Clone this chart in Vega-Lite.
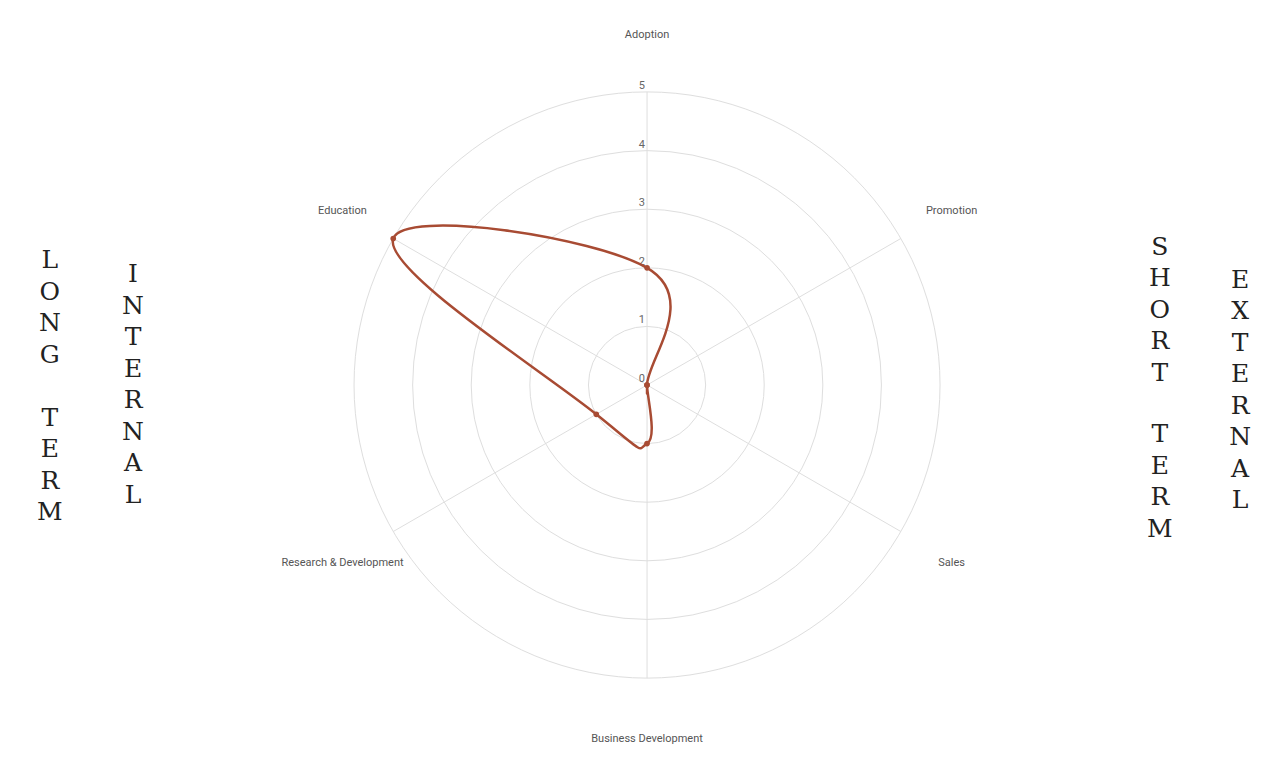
{
  "$schema": "https://vega.github.io/schema/vega-lite/v6.json",
  "width": 1280,
  "height": 776,
  "autosize": {"type": "fit", "contains": "padding"},
  "padding": 0,
  "background": "white",
  "config": {
    "view": {"stroke": null},
    "text": {"font": "Roboto"}
  },
  "datasets": {
    "axes": [
      {"axis": "Adoption", "i": 0, "value": 2},
      {"axis": "Promotion", "i": 1, "value": 0},
      {"axis": "Sales", "i": 2, "value": 0},
      {"axis": "Business Development", "i": 3, "value": 1},
      {"axis": "Research & Development", "i": 4, "value": 1},
      {"axis": "Education", "i": 5, "value": 5}
    ],
    "rings": [{"r": 1}, {"r": 2}, {"r": 3}, {"r": 4}, {"r": 5}],
    "ticks": [{"tick": 0}, {"tick": 1}, {"tick": 2}, {"tick": 3}, {"tick": 4}, {"tick": 5}],
    "sides": [
      {"col": "left", "word": "LONG"},
      {"col": "left", "word": "TERM"},
      {"col": "left-inner", "word": "INTERNAL"},
      {"col": "right-inner", "word": "SHORT"},
      {"col": "right-inner", "word": "TERM"},
      {"col": "right", "word": "EXTERNAL"}
    ]
  },
  "layer": [
    {
      "data": {"name": "rings"},
      "mark": {"type": "point", "shape": "circle", "filled": false, "fill": null,
               "stroke": "#dedede", "strokeWidth": 1, "opacity": 1},
      "encoding": {
        "x": {"datum": 0, "type": "quantitative", "axis": null,
              "scale": {"domain": [-11.04, 10.8], "nice": false, "zero": false}},
        "y": {"datum": 0, "type": "quantitative", "axis": null,
              "scale": {"domain": [-6.672, 6.57], "nice": false, "zero": false}},
        "size": {"field": "r", "type": "quantitative", "legend": null,
                 "scale": {"type": "pow", "exponent": 2, "domain": [0, 5], "range": [0, 343396]}}
      }
    },
    {
      "data": {"name": "axes"},
      "transform": [
        {"calculate": "datum.i * PI / 3", "as": "theta"},
        {"calculate": "5 * sin(datum.theta)", "as": "x"},
        {"calculate": "5 * cos(datum.theta)", "as": "y"}
      ],
      "mark": {"type": "rule", "stroke": "#dedede", "strokeWidth": 1},
      "encoding": {
        "x": {"field": "x", "type": "quantitative", "axis": null,
              "scale": {"domain": [-11.04, 10.8], "nice": false, "zero": false}},
        "y": {"field": "y", "type": "quantitative", "axis": null,
              "scale": {"domain": [-6.672, 6.57], "nice": false, "zero": false}},
        "x2": {"datum": 0},
        "y2": {"datum": 0}
      }
    },
    {
      "data": {"name": "ticks"},
      "mark": {"type": "text", "align": "right", "baseline": "bottom", "dx": -2, "dy": -1,
               "fontSize": 11, "color": "#666"},
      "encoding": {
        "x": {"datum": 0, "type": "quantitative", "axis": null,
              "scale": {"domain": [-11.04, 10.8], "nice": false, "zero": false}},
        "y": {"field": "tick", "type": "quantitative", "axis": null,
              "scale": {"domain": [-6.672, 6.57], "nice": false, "zero": false}},
        "text": {"field": "tick", "type": "quantitative"}
      }
    },
    {
      "data": {"name": "axes"},
      "transform": [
        {"calculate": "datum.i * PI / 3", "as": "theta"},
        {"calculate": "datum.value * sin(datum.theta)", "as": "x"},
        {"calculate": "datum.value * cos(datum.theta)", "as": "y"}
      ],
      "mark": {"type": "line", "interpolate": "cardinal-closed", "tension": -0.25,
               "stroke": "#a84b33", "strokeWidth": 2.5},
      "encoding": {
        "x": {"field": "x", "type": "quantitative", "axis": null,
              "scale": {"domain": [-11.04, 10.8], "nice": false, "zero": false}},
        "y": {"field": "y", "type": "quantitative", "axis": null,
              "scale": {"domain": [-6.672, 6.57], "nice": false, "zero": false}},
        "order": {"field": "i", "type": "quantitative"}
      }
    },
    {
      "data": {"name": "axes"},
      "transform": [
        {"calculate": "datum.i * PI / 3", "as": "theta"},
        {"calculate": "datum.value * sin(datum.theta)", "as": "x"},
        {"calculate": "datum.value * cos(datum.theta)", "as": "y"}
      ],
      "mark": {"type": "point", "shape": "circle", "filled": true, "color": "#a84b33", "size": 32, "opacity": 1},
      "encoding": {
        "x": {"field": "x", "type": "quantitative", "axis": null,
              "scale": {"domain": [-11.04, 10.8], "nice": false, "zero": false}},
        "y": {"field": "y", "type": "quantitative", "axis": null,
              "scale": {"domain": [-6.672, 6.57], "nice": false, "zero": false}},
        "tooltip": [{"field": "axis"}, {"field": "value"}]
      }
    },
    {
      "data": {"name": "axes"},
      "transform": [
        {"calculate": "datum.i * PI / 3", "as": "theta"},
        {"calculate": "6 * sin(datum.theta)", "as": "x"},
        {"calculate": "6 * cos(datum.theta)", "as": "y"}
      ],
      "mark": {"type": "text", "align": "center", "baseline": "middle", "dy": 2,
               "fontSize": 11, "color": "#555"},
      "encoding": {
        "x": {"field": "x", "type": "quantitative", "axis": null,
              "scale": {"domain": [-11.04, 10.8], "nice": false, "zero": false}},
        "y": {"field": "y", "type": "quantitative", "axis": null,
              "scale": {"domain": [-6.672, 6.57], "nice": false, "zero": false}},
        "text": {"field": "axis"}
      }
    },
    {
      "data": {"name": "sides"},
      "transform": [{"filter": "datum.col == 'left' && datum.word == 'LONG'"}, {"calculate": "split(datum.word, '')", "as": "letters"}],
      "mark": {"type": "text", "align": "center", "baseline": "middle",
               "font": "DejaVu Serif", "fontSize": 25, "lineHeight": 31.5, "color": "#222"},
      "encoding": {"x": {"datum": -10.19}, "y": {"datum": 2.133}, "text": {"field": "letters"}}
    },
    {
      "data": {"name": "sides"},
      "transform": [{"filter": "datum.col == 'left' && datum.word == 'TERM'"}, {"calculate": "split(datum.word, '')", "as": "letters"}],
      "mark": {"type": "text", "align": "center", "baseline": "middle",
               "font": "DejaVu Serif", "fontSize": 25, "lineHeight": 31.5, "color": "#222"},
      "encoding": {"x": {"datum": -10.19}, "y": {"datum": -0.555}, "text": {"field": "letters"}}
    },
    {
      "data": {"name": "sides"},
      "transform": [{"filter": "datum.col == 'left-inner'"}, {"calculate": "split(datum.word, '')", "as": "letters"}],
      "mark": {"type": "text", "align": "center", "baseline": "middle",
               "font": "DejaVu Serif", "fontSize": 25, "lineHeight": 31.5, "color": "#222"},
      "encoding": {"x": {"datum": -8.77}, "y": {"datum": 1.894}, "text": {"field": "letters"}}
    },
    {
      "data": {"name": "sides"},
      "transform": [{"filter": "datum.col == 'right-inner' && datum.word == 'SHORT'"}, {"calculate": "split(datum.word, '')", "as": "letters"}],
      "mark": {"type": "text", "align": "center", "baseline": "middle",
               "font": "DejaVu Serif", "fontSize": 25, "lineHeight": 31.5, "color": "#222"},
      "encoding": {"x": {"datum": 8.75}, "y": {"datum": 2.363}, "text": {"field": "letters"}}
    },
    {
      "data": {"name": "sides"},
      "transform": [{"filter": "datum.col == 'right-inner' && datum.word == 'TERM'"}, {"calculate": "split(datum.word, '')", "as": "letters"}],
      "mark": {"type": "text", "align": "center", "baseline": "middle",
               "font": "DejaVu Serif", "fontSize": 25, "lineHeight": 31.5, "color": "#222"},
      "encoding": {"x": {"datum": 8.75}, "y": {"datum": -0.836}, "text": {"field": "letters"}}
    },
    {
      "data": {"name": "sides"},
      "transform": [{"filter": "datum.col == 'right'"}, {"calculate": "split(datum.word, '')", "as": "letters"}],
      "mark": {"type": "text", "align": "center", "baseline": "middle",
               "font": "DejaVu Serif", "fontSize": 25, "lineHeight": 31.5, "color": "#222"},
      "encoding": {"x": {"datum": 10.12}, "y": {"datum": 1.792}, "text": {"field": "letters"}}
    }
  ]
}
